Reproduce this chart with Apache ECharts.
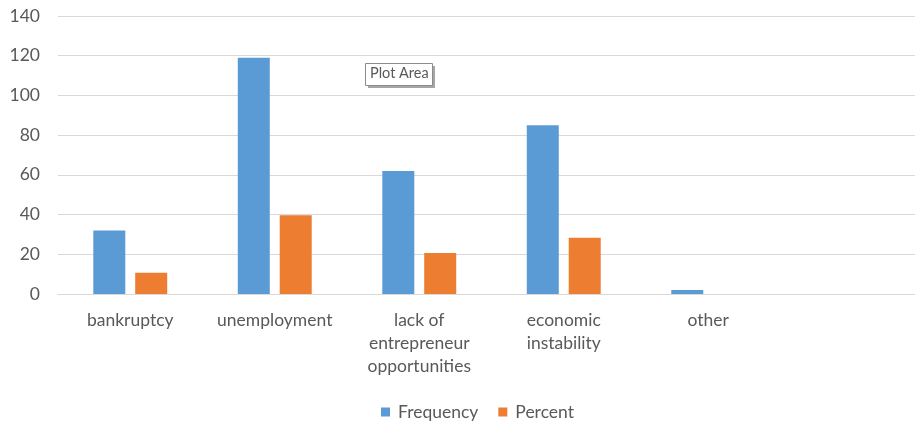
<!DOCTYPE html>
<html>
<head>
<meta charset="utf-8">
<script src="https://cdn.jsdelivr.net/npm/echarts@6/dist/echarts.min.js"></script>
<style>
  html, body { margin: 0; padding: 0; background: #fff; }
  #chart { width: 915px; height: 423px; }
</style>
</head>
<body>
<div id="chart"></div>
<script>
// Reasons and their counts / shares
const categories = ['bankruptcy', 'unemployment', 'lack of\nentrepreneur\nopportunities', 'economic\ninstability', 'other', ''];
const frequency = [32, 119, 62, 85, 2, null];
const percent = [10.7, 39.7, 20.7, 28.3, null, null];
const yTicks = { min: 0, max: 140, interval: 20 };

const textColor = '#595959';
const fontFamily = 'Lato, "Open Sans", sans-serif';

const chart = echarts.init(document.getElementById('chart'));
chart.setOption({
  animation: false,
  grid: {
    left: 58, top: 16, width: 867, height: 278,
    containLabel: false, outerBoundsMode: 'none'
  },
  legend: {
    top: 398,
    left: 376,
    itemWidth: 9,
    itemHeight: 9,
    itemGap: 20,
    icon: 'rect',
    textStyle: { color: textColor, fontSize: 17.5, fontFamily: fontFamily, padding: [0, 0, 0, 3] },
    data: ['Frequency', 'Percent']
  },
  xAxis: {
    type: 'category',
    data: categories,
    axisLine: { lineStyle: { color: '#d9d9d9', width: 1 } },
    axisTick: { show: false },
    axisLabel: {
      color: textColor, fontSize: 17.5, fontFamily: fontFamily,
      margin: 15, lineHeight: 23, interval: 0, align: 'center'
    }
  },
  yAxis: {
    type: 'value',
    min: yTicks.min, max: yTicks.max, interval: yTicks.interval,
    axisLine: { show: false },
    axisTick: { show: false },
    splitLine: { lineStyle: { color: '#d9d9d9', width: 1 } },
    axisLabel: { color: textColor, fontSize: 17.5, fontFamily: fontFamily, margin: 18 }
  },
  series: [
    {
      name: 'Frequency', type: 'bar', data: frequency,
      barWidth: 32, barGap: '31%',
      itemStyle: { color: '#5b9bd5' }
    },
    {
      name: 'Percent', type: 'bar', data: percent,
      barWidth: 32,
      itemStyle: { color: '#ed7d31' }
    }
  ],
  graphic: [
    {
      type: 'rect', left: 368, top: 66,
      shape: { width: 67, height: 22 },
      style: { fill: '#a6a6a6' }, z: 100
    },
    {
      type: 'rect', left: 365, top: 63,
      shape: { width: 67, height: 22 },
      style: { fill: '#ffffff', stroke: '#8c8c8c', lineWidth: 1 }, z: 101
    },
    {
      type: 'text', left: 370, top: 66,
      style: { text: 'Plot Area', fill: textColor, fontSize: 14.5, fontFamily: fontFamily },
      z: 102
    }
  ]
});
</script>
</body>
</html>
